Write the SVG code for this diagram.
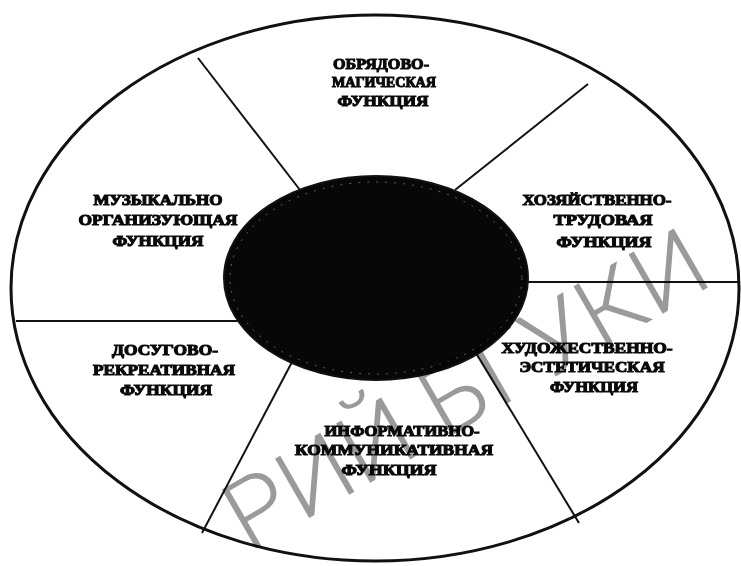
<svg xmlns="http://www.w3.org/2000/svg" width="741" height="566" viewBox="0 0 741 566">
  <style>
    .lbl { font-family: "Liberation Serif", "Times New Roman", serif; font-weight: bold; font-size: 15px; fill: #0a0a0a; stroke: #0a0a0a; stroke-width: 1.1; text-anchor: middle; }
    .div { stroke: #111; stroke-width: 2; fill: none; }
    .wm { font-family: Roboto, "Open Sans", "Liberation Sans", sans-serif; font-weight: 300; font-size: 96px; fill: #9a9a9a; text-anchor: middle; mix-blend-mode: multiply; }
  </style>
  <rect width="741" height="566" fill="#ffffff"/>
  <g id="outer">
    <ellipse cx="375" cy="288" rx="364" ry="273" fill="#ffffff" stroke="#111" stroke-width="3"/>
  </g>
  <g id="connectors">
    <line class="div" x1="198" y1="58" x2="300" y2="190"/>
    <line class="div" x1="588" y1="84" x2="455" y2="190"/>
    <line class="div" x1="16" y1="321" x2="250" y2="321" stroke-width="1.5"/>
    <line class="div" x1="515" y1="282" x2="739" y2="282" stroke-width="1.5"/>
    <line class="div" x1="202" y1="533" x2="292" y2="362"/>
    <line class="div" x1="465" y1="335" x2="579" y2="523"/>
  </g>
  <g id="center">
    <ellipse cx="376" cy="278" rx="152" ry="102" fill="#070707" stroke="#111" stroke-width="2"/>
    <ellipse cx="376" cy="278" rx="146" ry="96" fill="none" stroke="#bbbbbb" stroke-width="1" stroke-dasharray="2 7" opacity="0.5"/>
  </g>
  <g id="n-obryad">
    <text class="lbl" x="381" y="69" textLength="96" lengthAdjust="spacingAndGlyphs">ОБРЯДОВО-</text>
    <text class="lbl" x="384" y="87" textLength="104" lengthAdjust="spacingAndGlyphs">МАГИЧЕСКАЯ</text>
    <text class="lbl" x="383" y="106" textLength="91" lengthAdjust="spacingAndGlyphs">ФУНКЦИЯ</text>
  </g>
  <g id="n-muz">
    <text class="lbl" x="158" y="205" textLength="129" lengthAdjust="spacingAndGlyphs">МУЗЫКАЛЬНО</text>
    <text class="lbl" x="158" y="225" textLength="159" lengthAdjust="spacingAndGlyphs">ОРГАНИЗУЮЩАЯ</text>
    <text class="lbl" x="158" y="246" textLength="91" lengthAdjust="spacingAndGlyphs">ФУНКЦИЯ</text>
  </g>
  <g id="n-hoz">
    <text class="lbl" x="597" y="205" textLength="149" lengthAdjust="spacingAndGlyphs">ХОЗЯЙСТВЕННО-</text>
    <text class="lbl" x="603" y="225" textLength="99" lengthAdjust="spacingAndGlyphs">ТРУДОВАЯ</text>
    <text class="lbl" x="604" y="247" textLength="95" lengthAdjust="spacingAndGlyphs">ФУНКЦИЯ</text>
  </g>
  <g id="n-hud">
    <text class="lbl" x="587" y="353" textLength="171" lengthAdjust="spacingAndGlyphs">ХУДОЖЕСТВЕННО-</text>
    <text class="lbl" x="592" y="372" textLength="145" lengthAdjust="spacingAndGlyphs">ЭСТЕТИЧЕСКАЯ</text>
    <text class="lbl" x="594" y="392" textLength="88" lengthAdjust="spacingAndGlyphs">ФУНКЦИЯ</text>
  </g>
  <g id="n-dos">
    <text class="lbl" x="165" y="355" textLength="106" lengthAdjust="spacingAndGlyphs">ДОСУГОВО-</text>
    <text class="lbl" x="164" y="375" textLength="142" lengthAdjust="spacingAndGlyphs">РЕКРЕАТИВНАЯ</text>
    <text class="lbl" x="166" y="395" textLength="92" lengthAdjust="spacingAndGlyphs">ФУНКЦИЯ</text>
  </g>
  <g id="n-inf">
    <text class="lbl" x="402" y="436" textLength="155" lengthAdjust="spacingAndGlyphs">ИНФОРМАТИВНО-</text>
    <text class="lbl" x="394" y="455" textLength="198" lengthAdjust="spacingAndGlyphs">КОММУНИКАТИВНАЯ</text>
    <text class="lbl" x="389" y="475" textLength="95" lengthAdjust="spacingAndGlyphs">ФУНКЦИЯ</text>
  </g>
  <g id="watermark">
    <text class="wm" x="482" y="418" transform="rotate(-30 482 418)" textLength="540" lengthAdjust="spacingAndGlyphs">РИЙ БГУКИ</text>
  </g>
</svg>
